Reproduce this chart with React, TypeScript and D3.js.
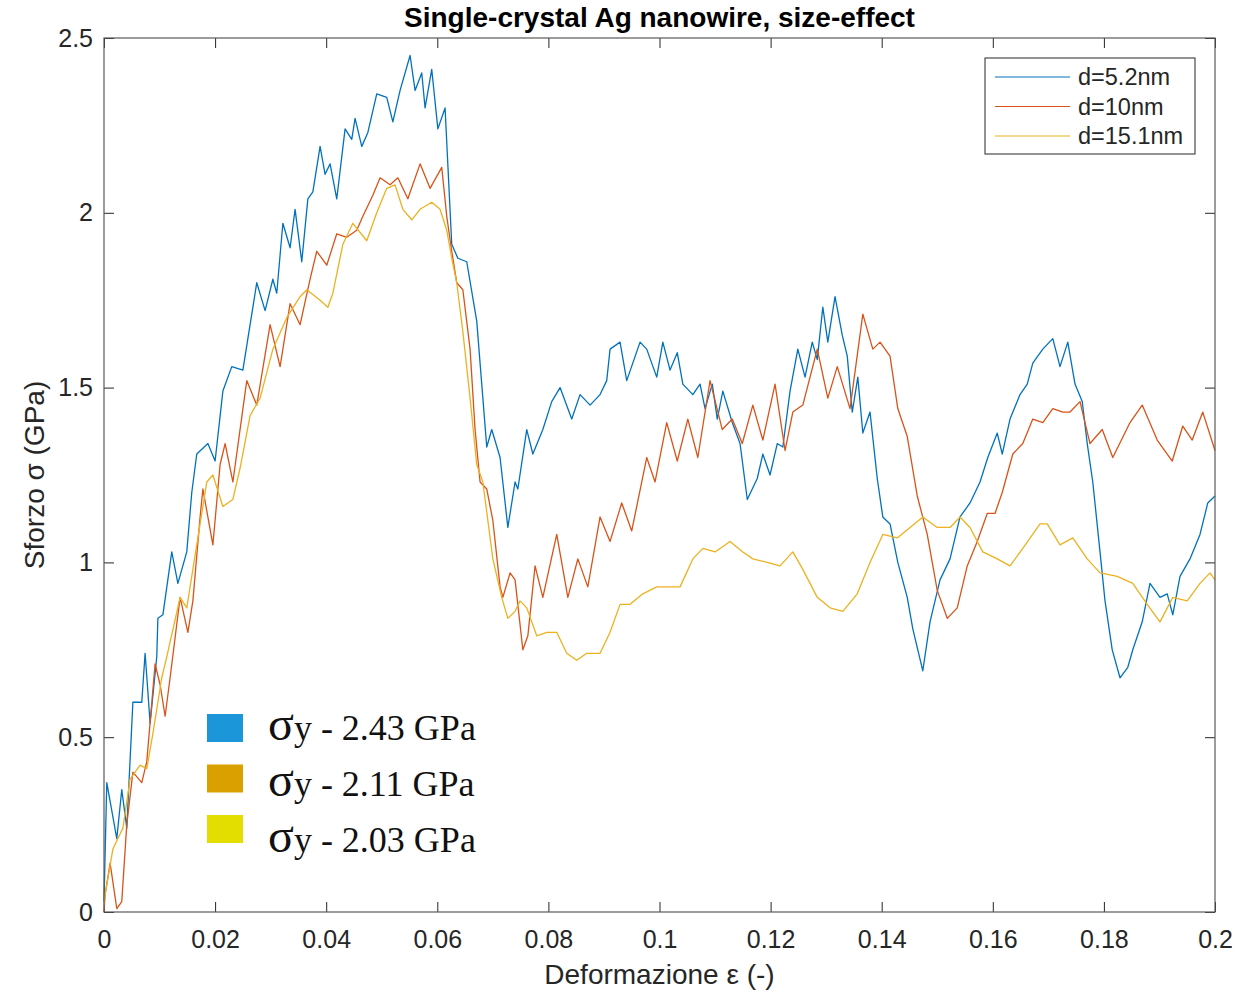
import React, { useEffect, useRef } from "react";
import * as d3 from "d3";

// strain (-) vs stress (GPa)
const strainTicks = [0, 0.02, 0.04, 0.06, 0.08, 0.1, 0.12, 0.14, 0.16, 0.18, 0.2];
const stressTicks = [0, 0.5, 1, 1.5, 2, 2.5];

const wire5_2nm: [number, number][] = [
  [0, 0.03], [0.0005, 0.37], [0.0023, 0.21], [0.0032, 0.35], [0.0041, 0.24], [0.0052, 0.6],
  [0.0068, 0.6], [0.0074, 0.74], [0.0083, 0.54], [0.0095, 0.73], [0.0097, 0.84], [0.0106, 0.85],
  [0.0122, 1.03], [0.0133, 0.94], [0.0149, 1.03], [0.0158, 1.2], [0.0167, 1.31], [0.0187, 1.34],
  [0.02, 1.29], [0.0214, 1.49], [0.023, 1.56], [0.025, 1.55], [0.0259, 1.64], [0.0275, 1.8],
  [0.029, 1.72], [0.0304, 1.81], [0.0311, 1.77], [0.0322, 1.97], [0.0335, 1.9], [0.0344, 2.01],
  [0.0356, 1.86], [0.0367, 2.04], [0.0376, 2.06], [0.0389, 2.19], [0.0398, 2.11], [0.0407, 2.14],
  [0.0419, 2.04], [0.0434, 2.24], [0.0446, 2.21], [0.0452, 2.27], [0.0464, 2.19], [0.0475, 2.23],
  [0.0491, 2.34], [0.0509, 2.33], [0.052, 2.26], [0.0533, 2.35], [0.0551, 2.45], [0.056, 2.35],
  [0.0572, 2.4], [0.0578, 2.3], [0.059, 2.41], [0.0601, 2.24], [0.0614, 2.3], [0.0626, 1.91],
  [0.0637, 1.87], [0.0653, 1.86], [0.0671, 1.69], [0.0689, 1.33], [0.0698, 1.38], [0.0713, 1.3],
  [0.0727, 1.1], [0.074, 1.23], [0.0745, 1.21], [0.0761, 1.38], [0.0772, 1.31], [0.079, 1.38],
  [0.0806, 1.46], [0.0821, 1.5], [0.0842, 1.41], [0.0857, 1.48], [0.0875, 1.45], [0.0893, 1.48],
  [0.0905, 1.52], [0.0911, 1.61], [0.0929, 1.63], [0.0941, 1.52], [0.0965, 1.63], [0.0977, 1.61],
  [0.0995, 1.53], [0.1006, 1.63], [0.1019, 1.55], [0.1032, 1.6], [0.1042, 1.51], [0.106, 1.48],
  [0.1073, 1.51], [0.1082, 1.44], [0.1095, 1.51], [0.1104, 1.41], [0.1114, 1.49], [0.1131, 1.4],
  [0.1145, 1.34], [0.1158, 1.18], [0.1176, 1.24], [0.1186, 1.31], [0.1199, 1.25], [0.1212, 1.34],
  [0.1222, 1.33], [0.1235, 1.49], [0.1249, 1.61], [0.1262, 1.53], [0.1275, 1.63], [0.1284, 1.58],
  [0.1294, 1.73], [0.1303, 1.63], [0.1316, 1.76], [0.1329, 1.65], [0.1338, 1.59], [0.1347, 1.43],
  [0.1357, 1.53], [0.1366, 1.37], [0.1379, 1.43], [0.1392, 1.24], [0.1402, 1.13], [0.1415, 1.11],
  [0.1429, 1.0], [0.1446, 0.9], [0.1456, 0.81], [0.1474, 0.69], [0.1487, 0.83], [0.1505, 0.95],
  [0.1523, 1.01], [0.1541, 1.13], [0.1559, 1.17], [0.1577, 1.23], [0.1591, 1.3], [0.1608, 1.37],
  [0.1617, 1.31], [0.1631, 1.41], [0.1649, 1.48], [0.1662, 1.51], [0.1672, 1.57], [0.169, 1.61],
  [0.1708, 1.64], [0.1721, 1.56], [0.1735, 1.63], [0.1748, 1.51], [0.1761, 1.46], [0.177, 1.34],
  [0.178, 1.23], [0.1793, 1.03], [0.1802, 0.89], [0.1815, 0.75], [0.1829, 0.67], [0.1843, 0.7],
  [0.1852, 0.75], [0.1869, 0.83], [0.1883, 0.94], [0.1901, 0.9], [0.1914, 0.91], [0.1924, 0.85],
  [0.1937, 0.96], [0.1955, 1.01], [0.1973, 1.08], [0.1987, 1.17], [0.2, 1.19],
];

const wire10nm: [number, number][] = [
  [0, 0.0], [0.0002, 0.05], [0.0011, 0.14], [0.0023, 0.01], [0.0032, 0.03], [0.0041, 0.25],
  [0.0052, 0.4], [0.0068, 0.37], [0.0077, 0.43], [0.0092, 0.71], [0.0101, 0.65], [0.011, 0.56],
  [0.0119, 0.67], [0.0137, 0.9], [0.0151, 0.8], [0.016, 0.89], [0.0173, 1.13], [0.0178, 1.21],
  [0.0196, 1.05], [0.0209, 1.28], [0.0218, 1.34], [0.0232, 1.23], [0.0257, 1.52], [0.0275, 1.45],
  [0.0299, 1.68], [0.0317, 1.56], [0.0335, 1.74], [0.0353, 1.68], [0.0371, 1.81], [0.0383, 1.89],
  [0.0401, 1.85], [0.0419, 1.94], [0.0437, 1.93], [0.0455, 1.95], [0.0466, 1.99], [0.0484, 2.05],
  [0.0497, 2.1], [0.0515, 2.08], [0.0529, 2.1], [0.0547, 2.04], [0.0569, 2.14], [0.0587, 2.07],
  [0.0608, 2.13], [0.0617, 1.99], [0.0626, 1.89], [0.0635, 1.8], [0.0646, 1.78], [0.0659, 1.61],
  [0.0668, 1.38], [0.0677, 1.23], [0.0689, 1.21], [0.07, 1.12], [0.0713, 0.93], [0.0718, 0.9],
  [0.0731, 0.97], [0.074, 0.95], [0.0754, 0.75], [0.0763, 0.79], [0.0776, 0.99], [0.079, 0.9],
  [0.0815, 1.08], [0.0835, 0.9], [0.0853, 1.01], [0.0871, 0.93], [0.0893, 1.13], [0.0911, 1.06],
  [0.0932, 1.17], [0.095, 1.09], [0.0977, 1.3], [0.0992, 1.23], [0.1013, 1.4], [0.1032, 1.29],
  [0.1051, 1.41], [0.1069, 1.3], [0.1091, 1.52], [0.1113, 1.38], [0.1131, 1.41], [0.1149, 1.34],
  [0.1168, 1.45], [0.1186, 1.35], [0.1208, 1.51], [0.1226, 1.32], [0.124, 1.43], [0.1258, 1.45],
  [0.1284, 1.61], [0.1303, 1.47], [0.132, 1.56], [0.1343, 1.44], [0.1366, 1.71], [0.1384, 1.61],
  [0.1397, 1.63], [0.1415, 1.59], [0.1429, 1.44], [0.1446, 1.36], [0.1464, 1.19], [0.1482, 1.08],
  [0.15, 0.92], [0.1518, 0.84], [0.1536, 0.87], [0.1554, 0.99], [0.1572, 1.06], [0.159, 1.14],
  [0.1604, 1.14], [0.1617, 1.2], [0.1636, 1.31], [0.1654, 1.34], [0.1672, 1.41], [0.169, 1.4],
  [0.1708, 1.44], [0.1726, 1.43], [0.1739, 1.43], [0.1757, 1.46], [0.1775, 1.34], [0.1797, 1.38],
  [0.1816, 1.3], [0.1847, 1.4], [0.1869, 1.45], [0.1896, 1.35], [0.1923, 1.29], [0.1942, 1.39],
  [0.1959, 1.35], [0.1978, 1.43], [0.2, 1.32],
];

const wire15_1nm: [number, number][] = [
  [0, 0.02], [0.0002, 0.05], [0.0016, 0.18], [0.0034, 0.24], [0.0047, 0.38], [0.0065, 0.42],
  [0.0077, 0.41], [0.0088, 0.51], [0.0104, 0.67], [0.0113, 0.73], [0.0137, 0.9], [0.0149, 0.87],
  [0.0173, 1.11], [0.0185, 1.23], [0.0196, 1.25], [0.0214, 1.16], [0.0232, 1.18], [0.0245, 1.27],
  [0.0263, 1.42], [0.0281, 1.47], [0.0304, 1.61], [0.0329, 1.7], [0.0353, 1.76], [0.0365, 1.78],
  [0.0389, 1.75], [0.0403, 1.73], [0.0412, 1.77], [0.043, 1.91], [0.0448, 1.97], [0.0473, 1.92],
  [0.0491, 2.0], [0.0509, 2.07], [0.0524, 2.08], [0.0538, 2.01], [0.0554, 1.98], [0.0569, 2.01],
  [0.059, 2.03], [0.0605, 2.01], [0.0617, 1.95], [0.0626, 1.87], [0.0635, 1.8], [0.0646, 1.66],
  [0.0659, 1.47], [0.0671, 1.28], [0.0682, 1.23], [0.07, 1.01], [0.0716, 0.9], [0.0727, 0.84],
  [0.074, 0.86], [0.0749, 0.89], [0.0761, 0.87], [0.0779, 0.79], [0.0797, 0.8], [0.0815, 0.8],
  [0.0833, 0.74], [0.0851, 0.72], [0.0869, 0.74], [0.0893, 0.74], [0.0911, 0.8], [0.0929, 0.88],
  [0.0947, 0.88], [0.097, 0.91], [0.0995, 0.93], [0.1019, 0.93], [0.1037, 0.93], [0.106, 1.01],
  [0.1078, 1.04], [0.11, 1.03], [0.1127, 1.06], [0.115, 1.03], [0.1168, 1.01], [0.1194, 1.0],
  [0.1217, 0.99], [0.124, 1.03], [0.1258, 0.98], [0.1284, 0.9], [0.1307, 0.87], [0.133, 0.86],
  [0.1356, 0.91], [0.1379, 1.0], [0.1402, 1.08], [0.1428, 1.07], [0.1451, 1.1], [0.1474, 1.13],
  [0.15, 1.1], [0.1523, 1.1], [0.1541, 1.13], [0.1559, 1.1], [0.1582, 1.03], [0.1608, 1.01],
  [0.1631, 0.99], [0.1654, 1.04], [0.1685, 1.11], [0.1698, 1.11], [0.1721, 1.05], [0.1744, 1.07],
  [0.177, 1.01], [0.1793, 0.97], [0.1824, 0.96], [0.1852, 0.94], [0.1878, 0.88], [0.1901, 0.83],
  [0.1924, 0.9], [0.195, 0.89], [0.1973, 0.94], [0.1991, 0.97], [0.2, 0.95],
];

const legendLabels = ["d=5.2nm", "d=10nm", "d=15.1nm"];
const yieldValues = ["2.43", "2.11", "2.03"];

const lineColors = ["#0072BD", "#D95319", "#EDB120"];
const yieldColors = ["#1A96D9", "#D9A000", "#E3DE00"];

const sans = "'Liberation Sans', Arial, Helvetica, sans-serif";
const serif = "'Liberation Serif', 'Times New Roman', serif";

export default function App() {
  const ref = useRef<SVGSVGElement>(null);

  useEffect(() => {
    const width = 1256;
    const height = 992;
    const margin = { top: 38, right: 41, bottom: 80, left: 104 };

    const svg = d3.select(ref.current);
    svg.selectAll("*").remove();

    svg.append("rect").attr("width", width).attr("height", height).attr("fill", "#fff");

    const x = d3.scaleLinear().domain([0, 0.2]).range([margin.left, width - margin.right]);
    const y = d3.scaleLinear().domain([0, 2.5]).range([height - margin.bottom, margin.top]);
    const fmt = d3.format("~g");

    // axes, ticks pointing inward like matlab
    const gx = svg.append("g")
      .attr("transform", `translate(0,${y(0)})`)
      .call(d3.axisBottom(x).tickValues(strainTicks).tickSize(-10).tickPadding(18).tickFormat(fmt as any));
    const gy = svg.append("g")
      .attr("transform", `translate(${x(0)},0)`)
      .call(d3.axisLeft(y).tickValues(stressTicks).tickSize(-10).tickPadding(11).tickFormat(fmt as any));
    const gt = svg.append("g")
      .attr("transform", `translate(0,${y(2.5)})`)
      .call(d3.axisTop(x).tickValues(strainTicks).tickSize(-10).tickFormat(() => ""));
    const gr = svg.append("g")
      .attr("transform", `translate(${x(0.2)},0)`)
      .call(d3.axisRight(y).tickValues(stressTicks).tickSize(-10).tickFormat(() => ""));

    [gx, gy, gt, gr].forEach(g => {
      g.select(".domain").remove();
      g.selectAll(".tick line").attr("stroke", "#262626");
      g.selectAll(".tick text")
        .attr("fill", "#262626")
        .style("font-family", sans)
        .style("font-size", "25px");
    });

    const line = d3.line<[number, number]>()
      .x(d => x(d[0]))
      .y(d => y(d[1]));

    [wire5_2nm, wire10nm, wire15_1nm].forEach((data, i) => {
      svg.append("path")
        .datum(data)
        .attr("fill", "none")
        .attr("stroke", lineColors[i])
        .attr("stroke-width", 1.3)
        .attr("stroke-linejoin", "round")
        .attr("d", line);
    });

    // box
    svg.append("rect")
      .attr("x", x(0)).attr("y", y(2.5))
      .attr("width", x(0.2) - x(0)).attr("height", y(0) - y(2.5))
      .attr("fill", "none").attr("stroke", "#5a5a5a").attr("stroke-width", 1.2);

    // title and labels
    svg.append("text")
      .attr("x", (x(0) + x(0.2)) / 2).attr("y", 27)
      .attr("text-anchor", "middle")
      .style("font-family", sans).style("font-size", "28px").style("font-weight", "bold")
      .text("Single-crystal Ag nanowire, size-effect");

    svg.append("text")
      .attr("x", (x(0) + x(0.2)) / 2).attr("y", 984)
      .attr("text-anchor", "middle").attr("fill", "#262626")
      .style("font-family", sans).style("font-size", "28px")
      .text("Deformazione ε (-)");

    svg.append("text")
      .attr("transform", `translate(44,${(y(0) + y(2.5)) / 2}) rotate(-90)`)
      .attr("text-anchor", "middle").attr("fill", "#262626")
      .style("font-family", sans).style("font-size", "28px")
      .text("Sforzo σ (GPa)");

    // line legend
    const lg = svg.append("g");
    lg.append("rect")
      .attr("x", 985).attr("y", 58).attr("width", 210).attr("height", 96)
      .attr("fill", "#fff").attr("stroke", "#262626").attr("stroke-width", 1);
    legendLabels.forEach((label, i) => {
      const ly = 77 + i * 29.5;
      lg.append("line")
        .attr("x1", 995).attr("x2", 1070).attr("y1", ly).attr("y2", ly)
        .attr("stroke", lineColors[i]).attr("stroke-width", 1.2);
      lg.append("text")
        .attr("x", 1078).attr("y", ly + 8)
        .attr("fill", "#262626")
        .style("font-family", sans).style("font-size", "23.5px")
        .text(label);
    });

    // yield stress annotation
    yieldValues.forEach((v, i) => {
      svg.append("rect")
        .attr("x", 207).attr("y", 714 + i * 50.5)
        .attr("width", 36).attr("height", 28)
        .attr("fill", yieldColors[i]);
      const t = svg.append("text")
        .attr("x", 268).attr("y", 740 + i * 56)
        .attr("fill", "#111")
        .style("font-family", serif).style("font-size", "36px");
      t.append("tspan").style("font-size", "48px").text("σ");
      t.append("tspan").text(`y - ${v} GPa`);
    });
  }, []);

  return (
    <svg
      ref={ref}
      width={1256}
      height={992}
      style={{ position: "absolute", left: 0, top: 0, display: "block" }}
    />
  );
}
